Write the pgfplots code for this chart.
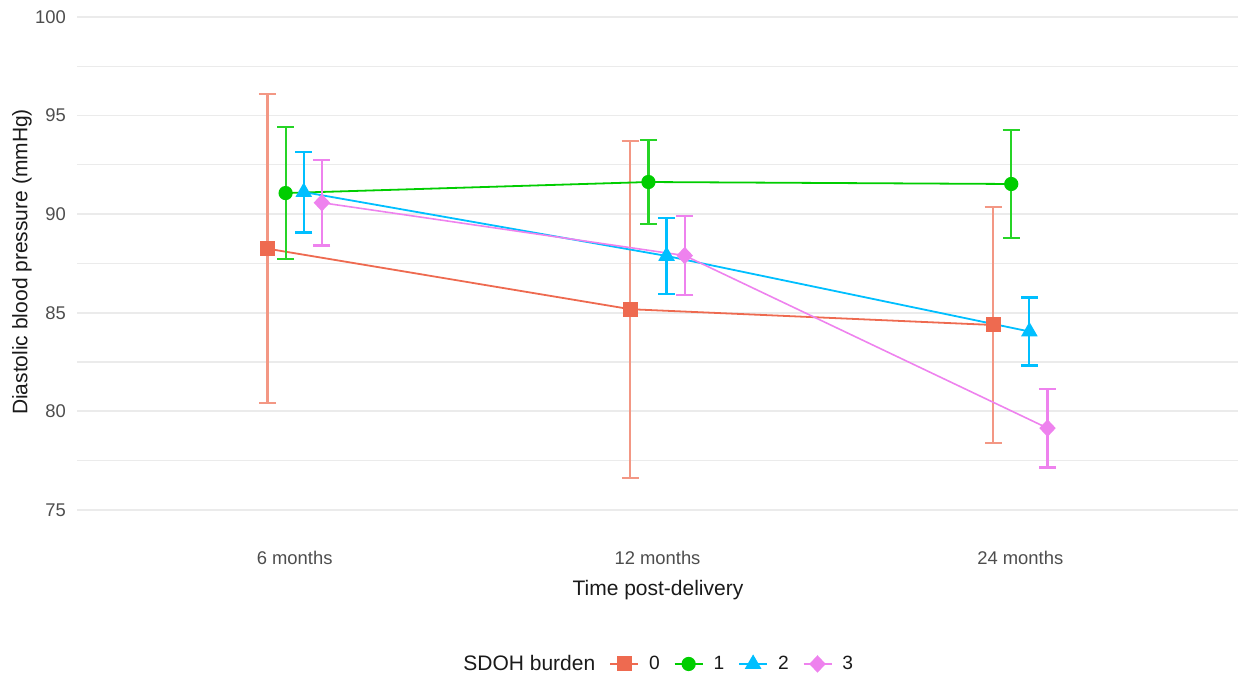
\documentclass[border=0pt]{standalone}
\usepackage{fontspec}
\setmainfont{Liberation Sans}
\usepackage{pgfplots}
\pgfplotsset{compat=1.18}
\definecolor{c0}{HTML}{EE6A50}
\definecolor{c1}{HTML}{00CD00}
\definecolor{c2}{HTML}{00BFFF}
\definecolor{c3}{HTML}{EE82EE}
\definecolor{gridc}{HTML}{EBEBEB}
\definecolor{tickc}{HTML}{4D4D4D}
\definecolor{txtc}{HTML}{1A1A1A}
\pgfplotstableread{
x y e
0.925 88.25 7.83
1.925 85.18 8.54
2.925 84.38 5.98
}\gzero
\pgfplotstableread{
x y e
0.975 91.07 3.34
1.975 91.63 2.14
2.975 91.53 2.73
}\gone
\pgfplotstableread{
x y e
1.025 91.12 2.05
2.025 87.88 1.94
3.025 84.05 1.72
}\gtwo
\pgfplotstableread{
x y e
1.075 90.58 2.17
2.075 87.90 1.99
3.075 79.15 2.00
}\gthree
\begin{document}
\begin{tikzpicture}
\useasboundingbox (0,0) rectangle (619pt,341pt);
\begin{axis}[
  at={(38.5pt,73.7pt)}, anchor=south west, scale only axis,
  width=580.5pt, height=267.3pt,
  xmin=0.4, xmax=3.6, ymin=73.75, ymax=100.86,
  axis line style={draw=none}, major tick style={draw=none}, minor tick style={draw=none},
  xtick={1,2,3}, xticklabels={6 months,12 months,24 months},
  ytick={75,80,...,100}, minor ytick={77.5,82.5,...,97.5},
  ymajorgrids, yminorgrids,
  major grid style={gridc, line width=0.9pt},
  minor grid style={gridc, line width=0.6pt},
  tick label style={font=\fontsize{9.2}{11}\selectfont, text=tickc},
  /pgf/number format/assume math mode=true,
  xticklabel style={yshift=-4.7pt},
  yticklabel style={xshift=-2pt},
  xlabel={Time post-delivery}, ylabel={Diastolic blood pressure (mmHg)},
  label style={font=\fontsize{10.5}{12}\selectfont, text=txtc},
  xlabel style={at={(axis description cs:0.5004,-0.1036)}, anchor=center},
  ylabel style={at={(axis description cs:-0.0474,0.51)}, anchor=center},
  legend columns=-1,
  legend style={at={(axis description cs:0.498,-0.242)}, anchor=center, draw=none, fill=none,
    font=\fontsize{9.6}{11}\selectfont, text=txtc,
    /tikz/every odd column/.append style={column sep=3pt},
    /tikz/every even column/.append style={column sep=5pt}},
  legend image code/.code={\draw[mark repeat=2,mark phase=2] plot coordinates {(0pt,0pt)(7pt,0pt)(14pt,0pt)};},
]
\addlegendimage{empty legend}
\addlegendentry{\fontsize{10.5}{12}\selectfont SDOH burden}
\addplot[color=c0, line width=0.9pt, mark=square*, mark size=3.3pt, mark options={solid},
  error bars/.cd, y dir=both, y explicit,
  error bar style={color=c0!70!white, line width=1.1pt},
  error mark options={rotate=90, mark size=4.3pt, line width=1.1pt, color=c0!70!white}]
  table[x=x, y=y, y error=e] {\gzero};
\addlegendentry{0}
\addplot[color=c1, line width=0.9pt, mark=*, mark size=3.1pt, mark options={solid},
  error bars/.cd, y dir=both, y explicit,
  error bar style={color=c1!85!white, line width=1.1pt},
  error mark options={rotate=90, mark size=4.3pt, line width=1.1pt, color=c1!85!white}]
  table[x=x, y=y, y error=e] {\gone};
\addlegendentry{1}
\addplot[color=c2, line width=0.9pt, mark=triangle*, mark size=3.9pt, mark options={solid},
  error bars/.cd, y dir=both, y explicit,
  error bar style={color=c2, line width=1.1pt},
  error mark options={rotate=90, mark size=4.3pt, line width=1.1pt, color=c2}]
  table[x=x, y=y, y error=e] {\gtwo};
\addlegendentry{2}
\addplot[color=c3, line width=0.8pt, mark=diamond*, mark size=3.8pt, mark options={solid, xscale=1.25},
  error bars/.cd, y dir=both, y explicit,
  error bar style={color=c3, line width=1.1pt},
  error mark options={rotate=90, mark size=4.3pt, line width=1.1pt, color=c3}]
  table[x=x, y=y, y error=e] {\gthree};
\addlegendentry{3}
\end{axis}
\end{tikzpicture}
\end{document}
